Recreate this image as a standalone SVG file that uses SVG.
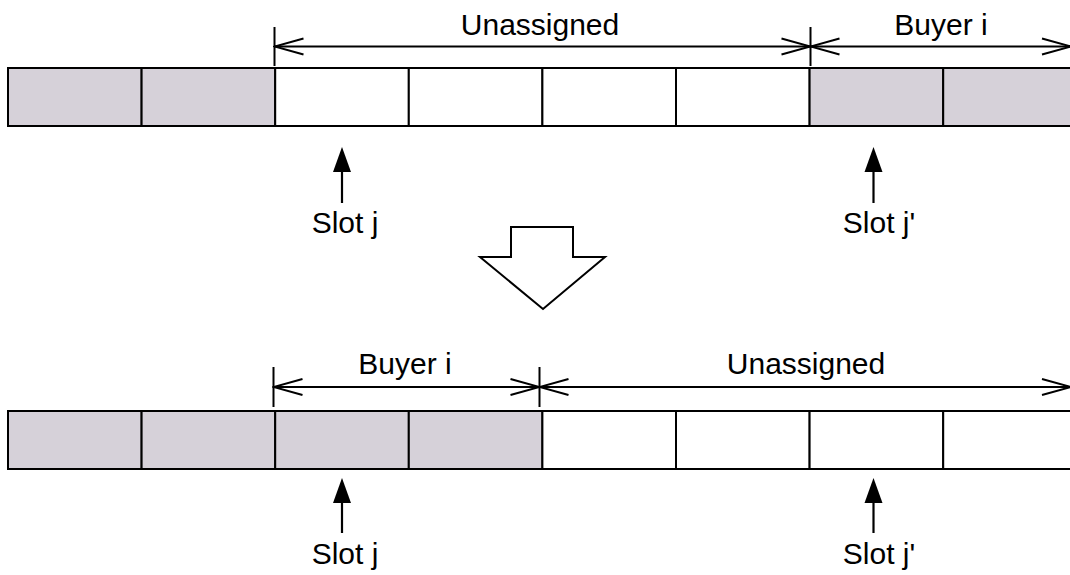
<svg xmlns="http://www.w3.org/2000/svg" width="1070" height="575" viewBox="0 0 1070 575">
  <style>
    .cell { stroke: #000; stroke-width: 2; }
    .taken { fill: #d6d1d9; }
    .free { fill: #fff; }
    .dim { stroke: #000; stroke-width: 2; fill: none; }
    .ptr { stroke: #000; stroke-width: 2.2; fill: none; }
    .lbl { font-family: "Liberation Sans", Arial, Helvetica, sans-serif; font-size: 30px; fill: #000; text-anchor: middle; }
  </style>
  <defs>
    <!-- open V head for the span dimension lines -->
    <marker id="openHead" markerUnits="userSpaceOnUse" markerWidth="32" markerHeight="20" viewBox="-30 -10 32 20" refX="0" refY="0" orient="auto-start-reverse">
      <path d="M-29,-8 L0,0 L-29,8" fill="none" stroke="#000" stroke-width="2"/>
    </marker>
  </defs>

  <rect width="1070" height="575" fill="#fff"/>

  <!-- before: slot row -->
  <g id="row-before">
    <rect class="cell taken" x="8" y="68" width="133.6" height="58"/>
    <rect class="cell taken" x="141.6" y="68" width="133.6" height="58"/>
    <rect class="cell free" x="275.2" y="68" width="133.6" height="58"/>
    <rect class="cell free" x="408.8" y="68" width="133.6" height="58"/>
    <rect class="cell free" x="542.4" y="68" width="133.6" height="58"/>
    <rect class="cell free" x="676" y="68" width="133.6" height="58"/>
    <rect class="cell taken" x="809.6" y="68" width="133.6" height="58"/>
    <rect class="cell taken" x="943.2" y="68" width="133.6" height="58"/>
  </g>

  <!-- after: slot row -->
  <g id="row-after">
    <rect class="cell taken" x="8" y="411" width="133.6" height="58"/>
    <rect class="cell taken" x="141.6" y="411" width="133.6" height="58"/>
    <rect class="cell taken" x="275.2" y="411" width="133.6" height="58"/>
    <rect class="cell taken" x="408.8" y="411" width="133.6" height="58"/>
    <rect class="cell free" x="542.4" y="411" width="133.6" height="58"/>
    <rect class="cell free" x="676" y="411" width="133.6" height="58"/>
    <rect class="cell free" x="809.6" y="411" width="133.6" height="58"/>
    <rect class="cell free" x="943.2" y="411" width="133.6" height="58"/>
  </g>

  <!-- transition arrow -->
  <g id="transition">
    <polygon points="511,227 573,227 573,257 605,257 543,309 480,257 511,257" fill="#fff" stroke="#000" stroke-width="2" stroke-linejoin="miter"/>
  </g>

  <!-- span labels -->
  <g id="span-top-unassigned">
    <text class="lbl" x="540" y="35">Unassigned</text>
  </g>
  <g id="span-top-buyer">
    <text class="lbl" x="941" y="35">Buyer i</text>
  </g>
  <g id="span-bottom-buyer">
    <text class="lbl" x="405" y="374">Buyer i</text>
  </g>
  <g id="span-bottom-unassigned">
    <text class="lbl" x="806" y="374">Unassigned</text>
  </g>

  <!-- slot pointers -->
  <g id="slot-j-top">
    <text class="lbl" x="345" y="233">Slot j</text>
  </g>
  <g id="slot-jp-top">
    <text class="lbl" x="879" y="233">Slot j'</text>
  </g>
  <g id="slot-j-bottom">
    <text class="lbl" x="345" y="564">Slot j</text>
  </g>
  <g id="slot-jp-bottom">
    <text class="lbl" x="879" y="564">Slot j'</text>
  </g>

  <g id="connectors">
    <!-- extension ticks -->
    <line class="dim" x1="274.5" y1="27" x2="274.5" y2="66"/>
    <line class="dim" x1="810.5" y1="27" x2="810.5" y2="66"/>
    <line class="dim" x1="273.5" y1="367" x2="273.5" y2="407"/>
    <line class="dim" x1="539.5" y1="367" x2="539.5" y2="407"/>
    <!-- dimension lines -->
    <line class="dim" x1="274.5" y1="46.5" x2="810.5" y2="46.5" marker-start="url(#openHead)" marker-end="url(#openHead)"/>
    <line class="dim" x1="810.5" y1="46.5" x2="1071" y2="46.5" marker-start="url(#openHead)" marker-end="url(#openHead)"/>
    <line class="dim" x1="273.5" y1="387" x2="539.5" y2="387" marker-start="url(#openHead)" marker-end="url(#openHead)"/>
    <line class="dim" x1="539.5" y1="387" x2="1071" y2="387" marker-start="url(#openHead)" marker-end="url(#openHead)"/>
    <!-- pointer arrows -->
    <line class="ptr" x1="342" y1="170" x2="342" y2="203"/>
    <polygon points="342,147 351,172 333,172" fill="#000"/>
    <line class="ptr" x1="873.5" y1="170" x2="873.5" y2="203"/>
    <polygon points="873.5,147 882.5,172 864.5,172" fill="#000"/>
    <line class="ptr" x1="342" y1="501" x2="342" y2="533"/>
    <polygon points="342,478 351,503 333,503" fill="#000"/>
    <line class="ptr" x1="873.5" y1="501" x2="873.5" y2="533"/>
    <polygon points="873.5,478 882.5,503 864.5,503" fill="#000"/>
  </g>
</svg>
